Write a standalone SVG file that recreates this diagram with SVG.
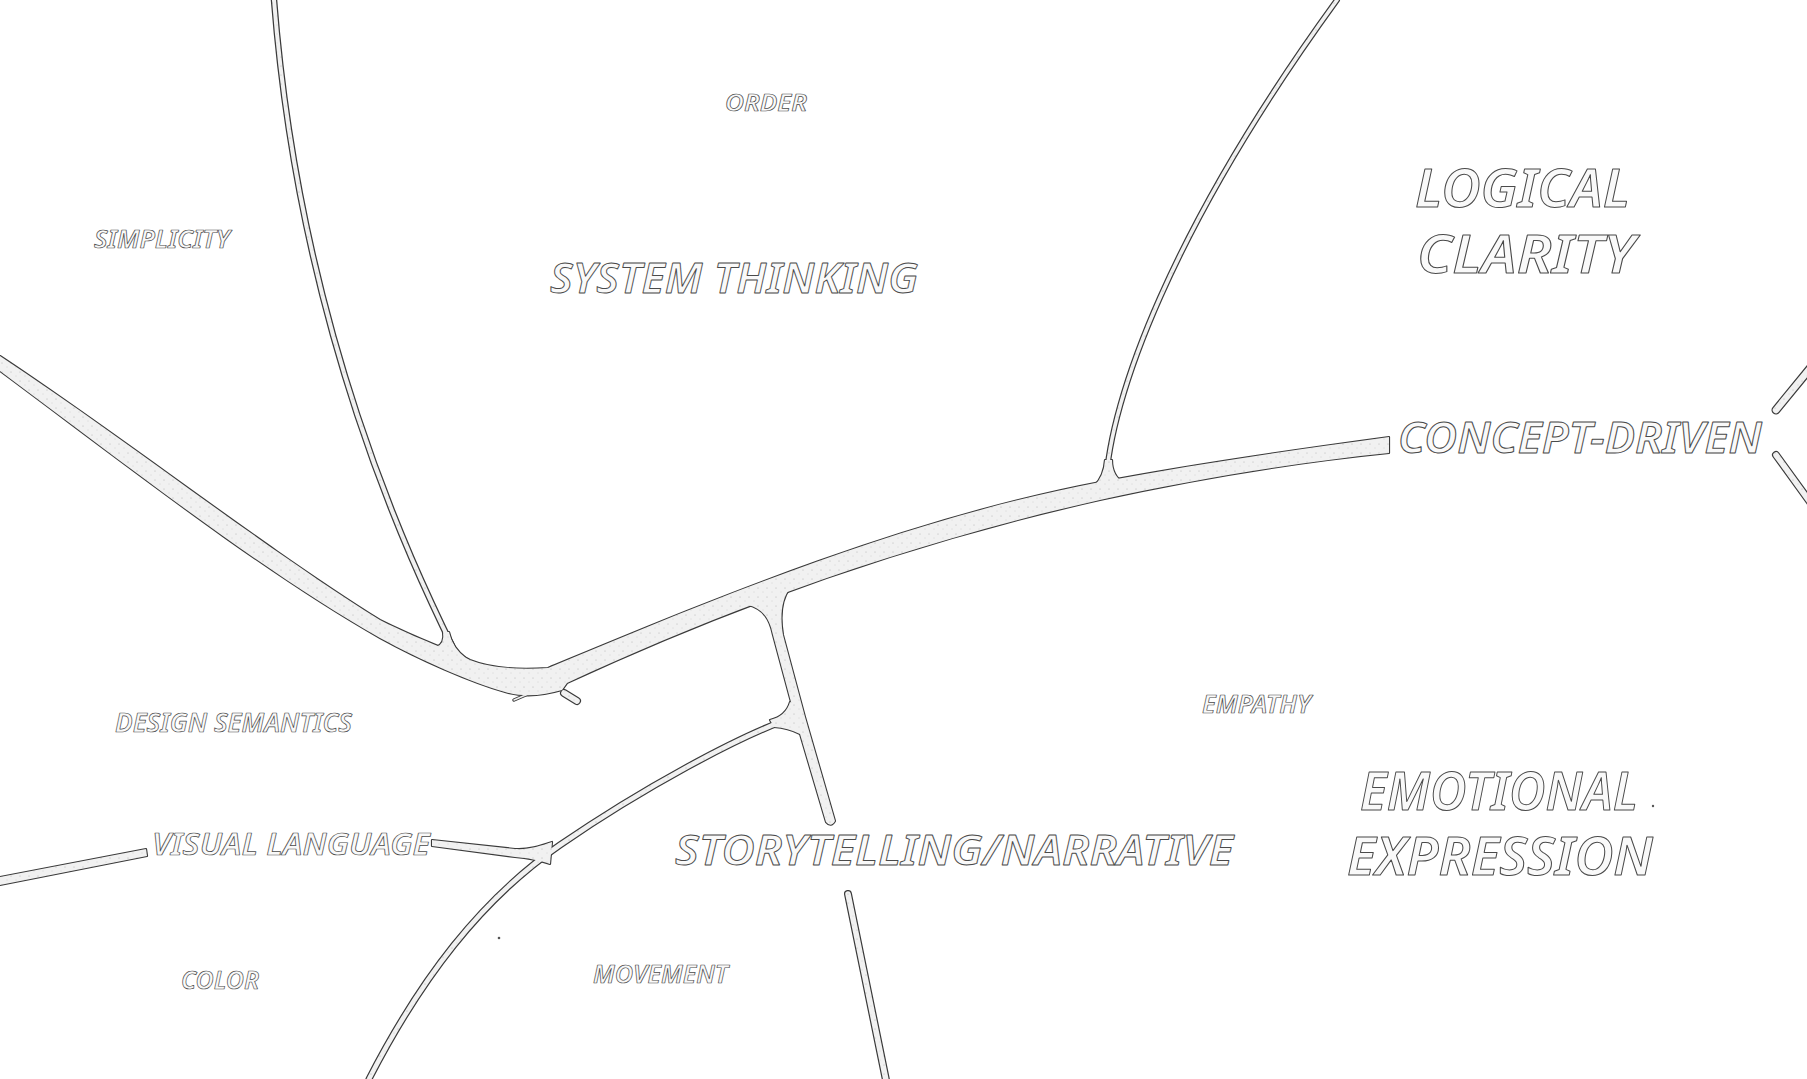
<svg xmlns="http://www.w3.org/2000/svg" xmlns:xlink="http://www.w3.org/1999/xlink" width="1807" height="1079" viewBox="0 0 1807 1079">
<style>
.bg{fill:#ffffff}
.oF{fill:#3a3a3a;stroke:#3a3a3a;stroke-width:2.2;stroke-linejoin:round}
.iF{fill:url(#stip);stroke:none}
.oS{fill:none;stroke:#3a3a3a;stroke-linecap:round;stroke-linejoin:round}
.iS{fill:none;stroke:url(#stip);stroke-linecap:round;stroke-linejoin:round}
.lbl{font-family:"Noto Sans","Open Sans","DejaVu Sans",sans-serif;font-style:italic;font-weight:600;fill:#f9f9f9;stroke:#4a4a4a;stroke-width:0.9;stroke-linejoin:round}
.sm{stroke-width:0.7}
.big{stroke-width:1}
.speck{fill:#555}
</style>
<defs>
<pattern id="stip" width="9" height="9" patternUnits="userSpaceOnUse">
<rect width="9" height="9" fill="#f1f1f1"/>
<circle cx="2" cy="3" r="0.5" fill="#a8a8a8"/>
<circle cx="7" cy="7" r="0.45" fill="#b5b5b5"/>
</pattern>
<path id="main" d="M0,356 C120,435 260,545 380,620 C420,640 450,650 470,660 C490,668 520,670 548,668 C700,605 900,520 1100,482 C1200,463 1300,449 1389,437 L1389,453 C1300,462 1200,478 1100,500 C900,545 720,612 567,683 L562,690 C545,695 525,698 505,692 C470,682 420,660 380,638 C260,570 120,460 0,371 Z"/>
<path id="vert" d="M748,605 C764,609 770,620 773,635 L795,717 L826,822 Q831,828 835,821 L805,717 L783,635 C780,617 781,600 790,588 Z"/>
<path id="filTL" d="M436,647 Q445,644 443,632 L449,632 Q452,648 467,659 Z"/>
<path id="filTR" d="M1094,486 Q1104,476 1105,460 L1112,460 Q1112,476 1124,483 Z"/>
<path id="filV" d="M770,720 Q786,716 790,702 L800,706 L800,734 Q788,728 774,727 Z"/>
<path id="vl" d="M432,840 L515,849 C528,850 540,846 552,842 L550,864 C538,860 528,858 515,857 L432,846 Z"/>
<path id="lstub" d="M0,877 L146,849 L147,856 L0,885 Z"/>
<path id="thinTL" d="M455,652 C410,560 300,330 274,0"/>
<path id="thinTR" d="M1106,484 C1110,400 1170,230 1337,0"/>
<path id="lowC" d="M797,716 C740,735 640,790 560,845 C480,900 420,980 369,1079"/>
<path id="below" d="M848,894 L887,1085"/>
<path id="knob" d="M564,693 L577,701"/>
<path id="spur" d="M528,694 L514,700"/>
<path id="rs1" d="M1776,410 L1812,366"/>
<path id="rs2" d="M1776,455 L1810,502"/>
</defs>
<rect class="bg" x="0" y="0" width="1807" height="1079"/>
<g id="connectors">
<g class="outer">
<use xlink:href="#main" class="oF"/>
<use xlink:href="#vert" class="oF"/>
<use xlink:href="#filTL" class="oF"/>
<use xlink:href="#filTR" class="oF"/>
<use xlink:href="#filV" class="oF"/>
<use xlink:href="#vl" class="oF"/>
<use xlink:href="#lstub" class="oF"/>
<use xlink:href="#thinTL" class="oS" stroke-width="6.5"/>
<use xlink:href="#thinTR" class="oS" stroke-width="6"/>
<use xlink:href="#lowC" class="oS" stroke-width="7"/>
<use xlink:href="#below" class="oS" stroke-width="8"/>
<use xlink:href="#knob" class="oS" stroke-width="8"/>
<use xlink:href="#spur" class="oS" stroke-width="3.5"/>
<use xlink:href="#rs1" class="oS" stroke-width="9"/>
<use xlink:href="#rs2" class="oS" stroke-width="8"/>
</g>
<g class="inner">
<use xlink:href="#main" class="iF"/>
<use xlink:href="#vert" class="iF"/>
<use xlink:href="#filTL" class="iF"/>
<use xlink:href="#filTR" class="iF"/>
<use xlink:href="#filV" class="iF"/>
<use xlink:href="#vl" class="iF"/>
<use xlink:href="#lstub" class="iF"/>
<use xlink:href="#thinTL" class="iS" stroke-width="4"/>
<use xlink:href="#thinTR" class="iS" stroke-width="3.6"/>
<use xlink:href="#lowC" class="iS" stroke-width="4.6"/>
<use xlink:href="#below" class="iS" stroke-width="5.6"/>
<use xlink:href="#knob" class="iS" stroke-width="5.6"/>
<use xlink:href="#spur" class="iS" stroke-width="1.5"/>
<use xlink:href="#rs1" class="iS" stroke-width="6.6"/>
<use xlink:href="#rs2" class="iS" stroke-width="5.6"/>
</g>
</g>
<g id="node-order"><text class="lbl sm" x="725" y="111" font-size="24" textLength="82" lengthAdjust="spacingAndGlyphs">ORDER</text></g>
<g id="node-simplicity"><text class="lbl sm" x="94" y="248" font-size="25" textLength="136" lengthAdjust="spacingAndGlyphs">SIMPLICITY</text></g>
<g id="node-system-thinking"><text class="lbl" x="550" y="293" font-size="42" textLength="368" lengthAdjust="spacingAndGlyphs">SYSTEM THINKING</text></g>
<g id="node-logical-clarity">
<text class="lbl big" x="1415" y="207" font-size="52" textLength="215" lengthAdjust="spacingAndGlyphs">LOGICAL</text>
<text class="lbl big" x="1417" y="273" font-size="52" textLength="218" lengthAdjust="spacingAndGlyphs">CLARITY</text>
</g>
<g id="node-concept-driven"><text class="lbl big" x="1398" y="453" font-size="44" textLength="364" lengthAdjust="spacingAndGlyphs">CONCEPT-DRIVEN</text></g>
<g id="node-empathy"><text class="lbl sm" x="1202" y="713" font-size="25" textLength="109" lengthAdjust="spacingAndGlyphs">EMPATHY</text></g>
<g id="node-emotional-expression">
<text class="lbl big" x="1360" y="810" font-size="52" textLength="278" lengthAdjust="spacingAndGlyphs">EMOTIONAL</text>
<text class="lbl big" x="1347" y="875" font-size="52" textLength="306" lengthAdjust="spacingAndGlyphs">EXPRESSION</text>
</g>
<g id="node-storytelling"><text class="lbl" x="675" y="865" font-size="42" textLength="558" lengthAdjust="spacingAndGlyphs">STORYTELLING/NARRATIVE</text></g>
<g id="node-design-semantics"><text class="lbl sm" x="115" y="732" font-size="27" textLength="237" lengthAdjust="spacingAndGlyphs">DESIGN SEMANTICS</text></g>
<g id="node-visual-language"><text class="lbl sm" x="152" y="855" font-size="30" textLength="278" lengthAdjust="spacingAndGlyphs">VISUAL LANGUAGE</text></g>
<g id="node-color"><text class="lbl sm" x="181" y="989" font-size="26" textLength="78" lengthAdjust="spacingAndGlyphs">COLOR</text></g>
<g id="node-movement"><text class="lbl sm" x="593" y="983" font-size="25" textLength="135" lengthAdjust="spacingAndGlyphs">MOVEMENT</text></g>
<circle class="speck" cx="1653" cy="806" r="1.2"/>
<circle class="speck" cx="499" cy="938" r="1.3"/>
</svg>
